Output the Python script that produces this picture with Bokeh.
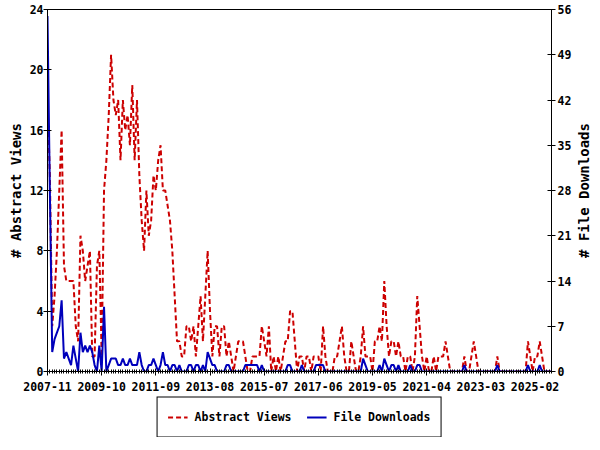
import math
from bokeh.plotting import figure
from bokeh.layouts import column, row
from bokeh.models import Range1d, LinearAxis, FixedTicker, Legend, LegendItem
from bokeh.core.properties import value
from bokeh.embed import file_html
from bokeh.resources import INLINE

# ---- data (monthly, 2007-11 .. 2025-09) ----
views = [
    18, 13, 3, 5, 8, 12, 16, 7, 6, 6,
    6, 6, 3, 2, 9, 8, 6, 7, 8, 1,
    1, 7, 8, 1, 12, 14, 17, 21, 18, 17,
    18, 14, 18, 16, 17, 15, 19, 14, 18, 13,
    10, 8, 12, 9, 10, 13, 12, 14, 15, 12,
    12, 11, 10, 8, 5, 2, 2, 1, 1, 3,
    3, 2, 3, 1, 3, 5, 2, 5, 8, 4,
    1, 3, 3, 1, 3, 3, 1, 2, 1, 0,
    1, 2, 2, 2, 1, 0, 0, 1, 1, 1,
    1, 3, 2, 1, 3, 0, 1, 0, 1, 0,
    1, 2, 2, 4, 4, 2, 0, 1, 1, 0,
    1, 1, 0, 1, 1, 1, 0, 3, 1, 0,
    0, 0, 1, 1, 2, 3, 1, 0, 0, 2,
    1, 0, 0, 1, 3, 1, 1, 1, 0, 2,
    2, 3, 2, 6, 3, 1, 2, 2, 1, 2,
    1, 1, 0, 1, 1, 0, 1, 5, 3, 1,
    0, 1, 0, 0, 1, 0, 1, 1, 1, 2,
    1, 0, 0, 0, 0, 0, 0, 1, 0, 0,
    1, 2, 1, 0, 0, 0, 0, 0, 0, 0,
    0, 1, 0, 0, 0, 0, 0, 0, 0, 0,
    0, 0, 0, 0, 2, 1, 0, 1, 1, 2,
    1, 0, 0, 0, 0,
]
downloads = [
    55, 28, 3, 5, 6, 7, 11, 2, 3, 2,
    1, 4, 2, 0, 6, 3, 4, 3, 4, 3,
    1, 0, 4, 0, 10, 0, 1, 2, 2, 2,
    1, 1, 2, 1, 1, 2, 1, 1, 1, 3,
    1, 0, 0, 1, 1, 2, 1, 0, 1, 3,
    1, 1, 0, 1, 1, 0, 1, 0, 0, 0,
    1, 1, 0, 1, 1, 0, 1, 0, 3, 2,
    1, 1, 0, 0, 0, 0, 1, 1, 0, 0,
    0, 0, 0, 0, 1, 1, 1, 1, 1, 1,
    0, 1, 0, 0, 0, 0, 0, 0, 0, 0,
    0, 0, 1, 1, 0, 0, 0, 0, 1, 0,
    0, 0, 0, 0, 1, 1, 1, 1, 0, 0,
    0, 0, 0, 0, 0, 0, 0, 0, 0, 0,
    0, 0, 0, 0, 2, 1, 0, 0, 0, 0,
    0, 1, 0, 2, 1, 0, 1, 1, 0, 1,
    0, 0, 0, 0, 1, 0, 0, 1, 1, 0,
    0, 0, 0, 0, 0, 0, 0, 0, 0, 0,
    0, 0, 0, 0, 0, 0, 0, 1, 0, 0,
    0, 0, 0, 0, 0, 0, 0, 0, 0, 0,
    0, 1, 0, 0, 0, 0, 0, 0, 0, 0,
    0, 0, 0, 0, 1, 0, 0, 0, 0, 1,
    0, 0, 0, 0, 0,
]
tick_labels = ["2007-11", "2009-10", "2011-09", "2013-08", "2015-07",
               "2017-06", "2019-05", "2021-04", "2023-03", "2025-02"]
tick_step = 23
left_ticks = [0, 4, 8, 12, 16, 20, 24]
right_ticks = [0, 7, 14, 21, 28, 35, 42, 49, 56]
series_names = ["Abstract Views", "File Downloads"]
left_title = "# Abstract Views"
right_title = "# File Downloads"

FONT = "DejaVu Sans Mono"
RED = "#cc0000"
BLUE = "#0000bb"
RED_DASH = "5 3"

n = len(views)
xs = list(range(n))

p = figure(width=577, height=396, output_backend="svg", toolbar_location=None,
           x_range=Range1d(0, n - 1), y_range=Range1d(left_ticks[0], left_ticks[-1]),
           min_border_left=47, min_border_right=26, min_border_top=9, min_border_bottom=25)
p.extra_y_ranges = {"dl": Range1d(right_ticks[0], right_ticks[-1])}
p.xgrid.visible = False
p.ygrid.visible = False
p.outline_line_color = "black"
p.outline_line_width = 1
p.background_fill_color = "white"
p.border_fill_color = "white"

p.line(xs, views, line_color=RED, line_width=2, line_dash=RED_DASH)
p.line(xs, downloads, line_color=BLUE, line_width=2, y_range_name="dl")

def style(ax):
    ax.axis_line_color = "black"
    ax.major_tick_line_color = "black"
    ax.major_label_text_font = FONT
    ax.major_label_text_font_size = "11.5px"
    ax.major_label_text_font_style = "bold"
    ax.major_label_text_color = "black"
    ax.axis_label_text_font = FONT
    ax.axis_label_text_font_size = "14px"
    ax.axis_label_text_font_style = "bold"
    ax.axis_label_text_color = "black"

# x axis
xa = p.xaxis[0]
major_pos = [i * tick_step for i in range(len(tick_labels))]
xa.ticker = FixedTicker(ticks=major_pos, minor_ticks=xs)
xa.major_label_overrides = {pos: lab for pos, lab in zip(major_pos, tick_labels)}
style(xa)
xa.major_tick_in = 3
xa.major_tick_out = 4
xa.minor_tick_in = 2
xa.minor_tick_out = 2
xa.minor_tick_line_color = "black"
xa.major_label_standoff = 6

# left axis
ya = p.yaxis[0]
ya.ticker = FixedTicker(ticks=left_ticks)
style(ya)
ya.minor_tick_line_color = None
ya.major_tick_in = 4
ya.major_tick_out = 4
ya.major_label_standoff = 0
ya.axis_label = left_title
ya.axis_label_standoff = 3

# right axis (title drawn in a narrow strip to its right)
ra = LinearAxis(y_range_name="dl", ticker=FixedTicker(ticks=right_ticks))
style(ra)
ra.minor_tick_line_color = None
ra.major_tick_in = 4
ra.major_tick_out = 4
ra.major_label_standoff = 2
p.add_layout(ra, "right")

rf = figure(width=21, height=396, output_backend="svg", toolbar_location=None,
            x_range=Range1d(0, 1), y_range=Range1d(0, 1),
            x_axis_location=None, y_axis_location=None,
            min_border_left=0, min_border_right=0, min_border_top=9, min_border_bottom=25)
rf.xgrid.visible = False
rf.ygrid.visible = False
rf.outline_line_color = None
rf.background_fill_color = "white"
rf.border_fill_color = "white"
rf.text(x=[0.33], y=[0.5], text=[right_title], angle=math.pi / 2,
        text_align="center", text_baseline="middle",
        text_font=value(FONT), text_font_size="14px", text_font_style="bold",
        text_color="black")

# legend strip below the chart
lg = figure(width=598, height=41, output_backend="svg", toolbar_location=None,
            x_range=Range1d(0, 1), y_range=Range1d(0, 1),
            x_axis_location=None, y_axis_location=None,
            min_border_left=0, min_border_right=0, min_border_top=0, min_border_bottom=0)
lg.xgrid.visible = False
lg.ygrid.visible = False
lg.outline_line_color = None
lg.background_fill_color = "white"
lg.border_fill_color = "white"
d1 = lg.line([-5, -4], [-5, -4], line_color=RED, line_width=2, line_dash=RED_DASH)
d2 = lg.line([-5, -4], [-5, -4], line_color=BLUE, line_width=2)

legend = Legend(items=[LegendItem(label=series_names[0], renderers=[d1]),
                       LegendItem(label=series_names[1], renderers=[d2])],
                orientation="horizontal", location="center",
                border_line_color="black", border_line_width=1, border_line_alpha=1,
                background_fill_color="white", background_fill_alpha=1,
                padding=10, spacing=15, glyph_width=20, glyph_height=19,
                label_standoff=7, margin=0,
                label_text_font=FONT, label_text_font_size="11.5px",
                label_text_font_style="bold", label_text_color="black")
lg.add_layout(legend)

layout = column(row(p, rf, spacing=0), lg, spacing=0)
open("out.html", "w").write(file_html(layout, INLINE))
